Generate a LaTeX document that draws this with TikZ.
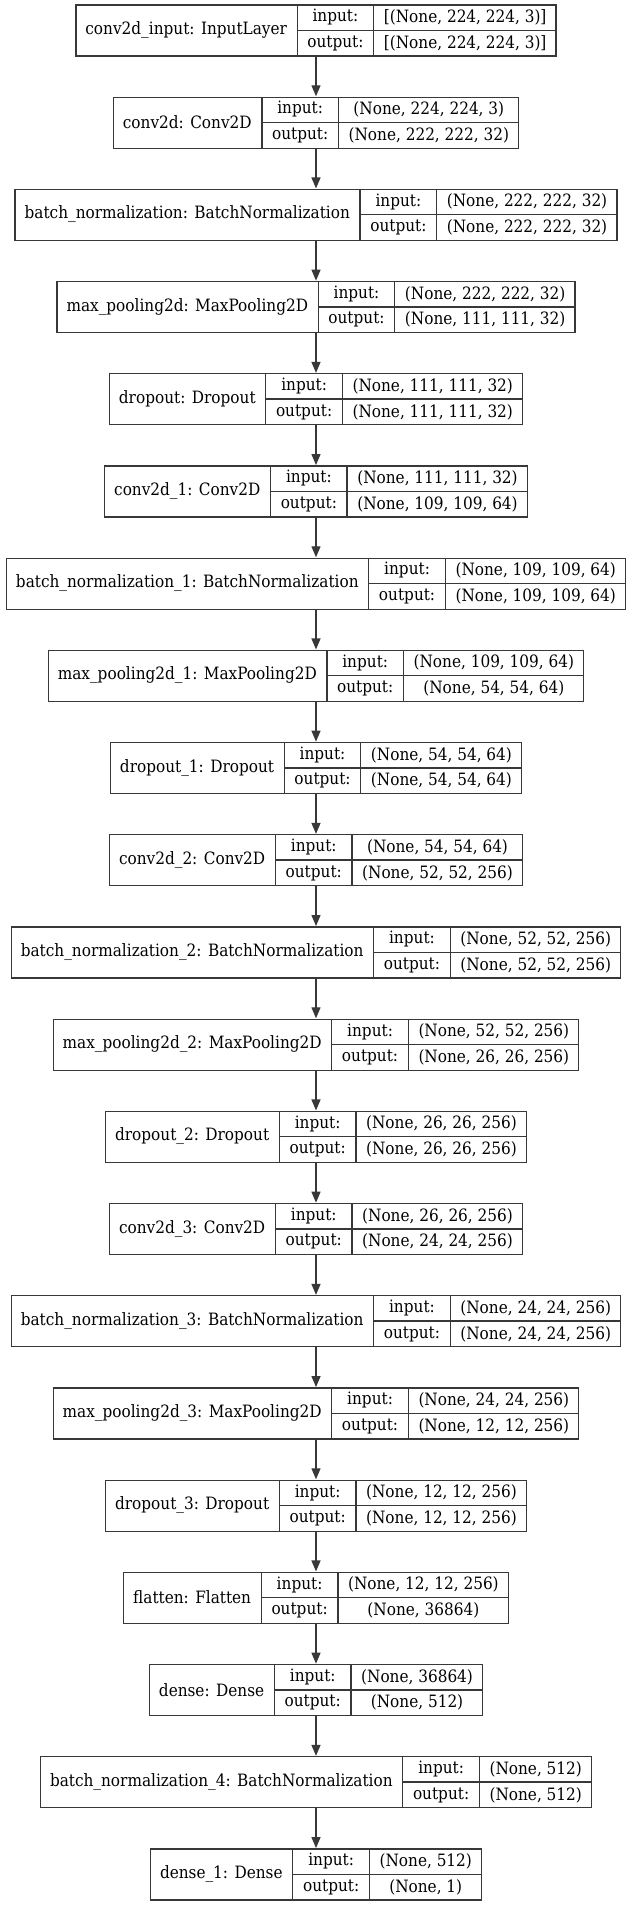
\documentclass[tikz,border=0pt]{standalone}
\usepackage{fontspec}
\setmainfont{DejaVu Serif Condensed}
\usetikzlibrary{arrows.meta}
\newdimen\LWa \newdimen\LWb \newdimen\LWc \newdimen\LWt \newdimen\LWtot
\newcommand\lfont{\fontsize{17pt}{19pt}\selectfont}
% measuring pass (outside the picture)
\newcommand\measurelayer[5]{%
 \settowidth\LWa{#2}\advance\LWa by 20pt
 \settowidth\LWb{output:}\advance\LWb by 20pt
 \settowidth\LWc{#3}\settowidth\LWt{#4}\ifdim\LWt>\LWc\relax\LWc=\LWt\fi\advance\LWc by 20pt
 \LWtot=\LWa \advance\LWtot by \LWb \advance\LWtot by \LWc
 \expandafter\xdef\csname wA#1\endcsname{\the\LWa}%
 \expandafter\xdef\csname wB#1\endcsname{\the\LWb}%
 \expandafter\xdef\csname wC#1\endcsname{\the\LWc}%
 \expandafter\xdef\csname wT#1\endcsname{\the\LWtot}%
}
% drawing pass
\newcommand\drawlayer[5]{%
 \node[box, minimum width=\csname wT#1\endcsname] (#1) at (316pt,{-(5+92.2*#5)*1pt-25.5pt}) {};
 \node[cell, minimum width=\csname wA#1\endcsname, minimum height=51pt, anchor=north west] (#1-n) at (#1.north west) {#2};
 \node[cell, minimum width=\csname wB#1\endcsname, anchor=north west] (#1-il) at (#1-n.north east) {input:};
 \node[cell, minimum width=\csname wB#1\endcsname, anchor=north west] (#1-ol) at (#1-il.south west) {output:};
 \node[cell, minimum width=\csname wC#1\endcsname, anchor=north west] (#1-iv) at (#1-il.north east) {#3};
 \node[cell, minimum width=\csname wC#1\endcsname, anchor=north west] (#1-ov) at (#1-ol.north east) {#4};
 \draw[ln] (#1-n.north east) -- (#1-n.south east);
 \draw[ln] (#1-il.north east) -- (#1-ol.south east);
 \draw[ln] (#1-il.south west) -- (#1-iv.south east);
}
\newcommand\alllayers{%
\LL{L0}{conv2d\_input: InputLayer}{[(None, 224, 224, 3)]}{[(None, 224, 224, 3)]}{0}
\LL{L1}{conv2d: Conv2D}{(None, 224, 224, 3)}{(None, 222, 222, 32)}{1}
\LL{L2}{batch\_normalization: BatchNormalization}{(None, 222, 222, 32)}{(None, 222, 222, 32)}{2}
\LL{L3}{max\_pooling2d: MaxPooling2D}{(None, 222, 222, 32)}{(None, 111, 111, 32)}{3}
\LL{L4}{dropout: Dropout}{(None, 111, 111, 32)}{(None, 111, 111, 32)}{4}
\LL{L5}{conv2d\_1: Conv2D}{(None, 111, 111, 32)}{(None, 109, 109, 64)}{5}
\LL{L6}{batch\_normalization\_1: BatchNormalization}{(None, 109, 109, 64)}{(None, 109, 109, 64)}{6}
\LL{L7}{max\_pooling2d\_1: MaxPooling2D}{(None, 109, 109, 64)}{(None, 54, 54, 64)}{7}
\LL{L8}{dropout\_1: Dropout}{(None, 54, 54, 64)}{(None, 54, 54, 64)}{8}
\LL{L9}{conv2d\_2: Conv2D}{(None, 54, 54, 64)}{(None, 52, 52, 256)}{9}
\LL{L10}{batch\_normalization\_2: BatchNormalization}{(None, 52, 52, 256)}{(None, 52, 52, 256)}{10}
\LL{L11}{max\_pooling2d\_2: MaxPooling2D}{(None, 52, 52, 256)}{(None, 26, 26, 256)}{11}
\LL{L12}{dropout\_2: Dropout}{(None, 26, 26, 256)}{(None, 26, 26, 256)}{12}
\LL{L13}{conv2d\_3: Conv2D}{(None, 26, 26, 256)}{(None, 24, 24, 256)}{13}
\LL{L14}{batch\_normalization\_3: BatchNormalization}{(None, 24, 24, 256)}{(None, 24, 24, 256)}{14}
\LL{L15}{max\_pooling2d\_3: MaxPooling2D}{(None, 24, 24, 256)}{(None, 12, 12, 256)}{15}
\LL{L16}{dropout\_3: Dropout}{(None, 12, 12, 256)}{(None, 12, 12, 256)}{16}
\LL{L17}{flatten: Flatten}{(None, 12, 12, 256)}{(None, 36864)}{17}
\LL{L18}{dense: Dense}{(None, 36864)}{(None, 512)}{18}
\LL{L19}{batch\_normalization\_4: BatchNormalization}{(None, 512)}{(None, 512)}{19}
\LL{L20}{dense\_1: Dense}{(None, 512)}{(None, 1)}{20}%
}
\begin{document}
{\lfont\let\LL\measurelayer\alllayers}%
\begin{tikzpicture}[
  font=\lfont,
  ln/.style={draw=black!78, line width=1.3pt},
  box/.style={ln, rectangle, minimum height=51pt, inner sep=0pt},
  cell/.style={rectangle, inner sep=0pt, minimum height=25.5pt, text=black},
  arr/.style={draw=black!78, line width=1.3pt, -{Triangle[length=11pt,width=9pt]}, shorten >=0.3pt}
]
\fill[white] (0,0) rectangle (632pt,-1906pt);
\useasboundingbox (0,0) rectangle (632pt,-1906pt);
\let\LL\drawlayer
\alllayers
\foreach \a/\b in {L0/L1,L1/L2,L2/L3,L3/L4,L4/L5,L5/L6,L6/L7,L7/L8,L8/L9,L9/L10,L10/L11,L11/L12,L12/L13,L13/L14,L14/L15,L15/L16,L16/L17,L17/L18,L18/L19,L19/L20}
  \draw[arr] (\a.south) -- (\b.north);
\end{tikzpicture}
\end{document}
